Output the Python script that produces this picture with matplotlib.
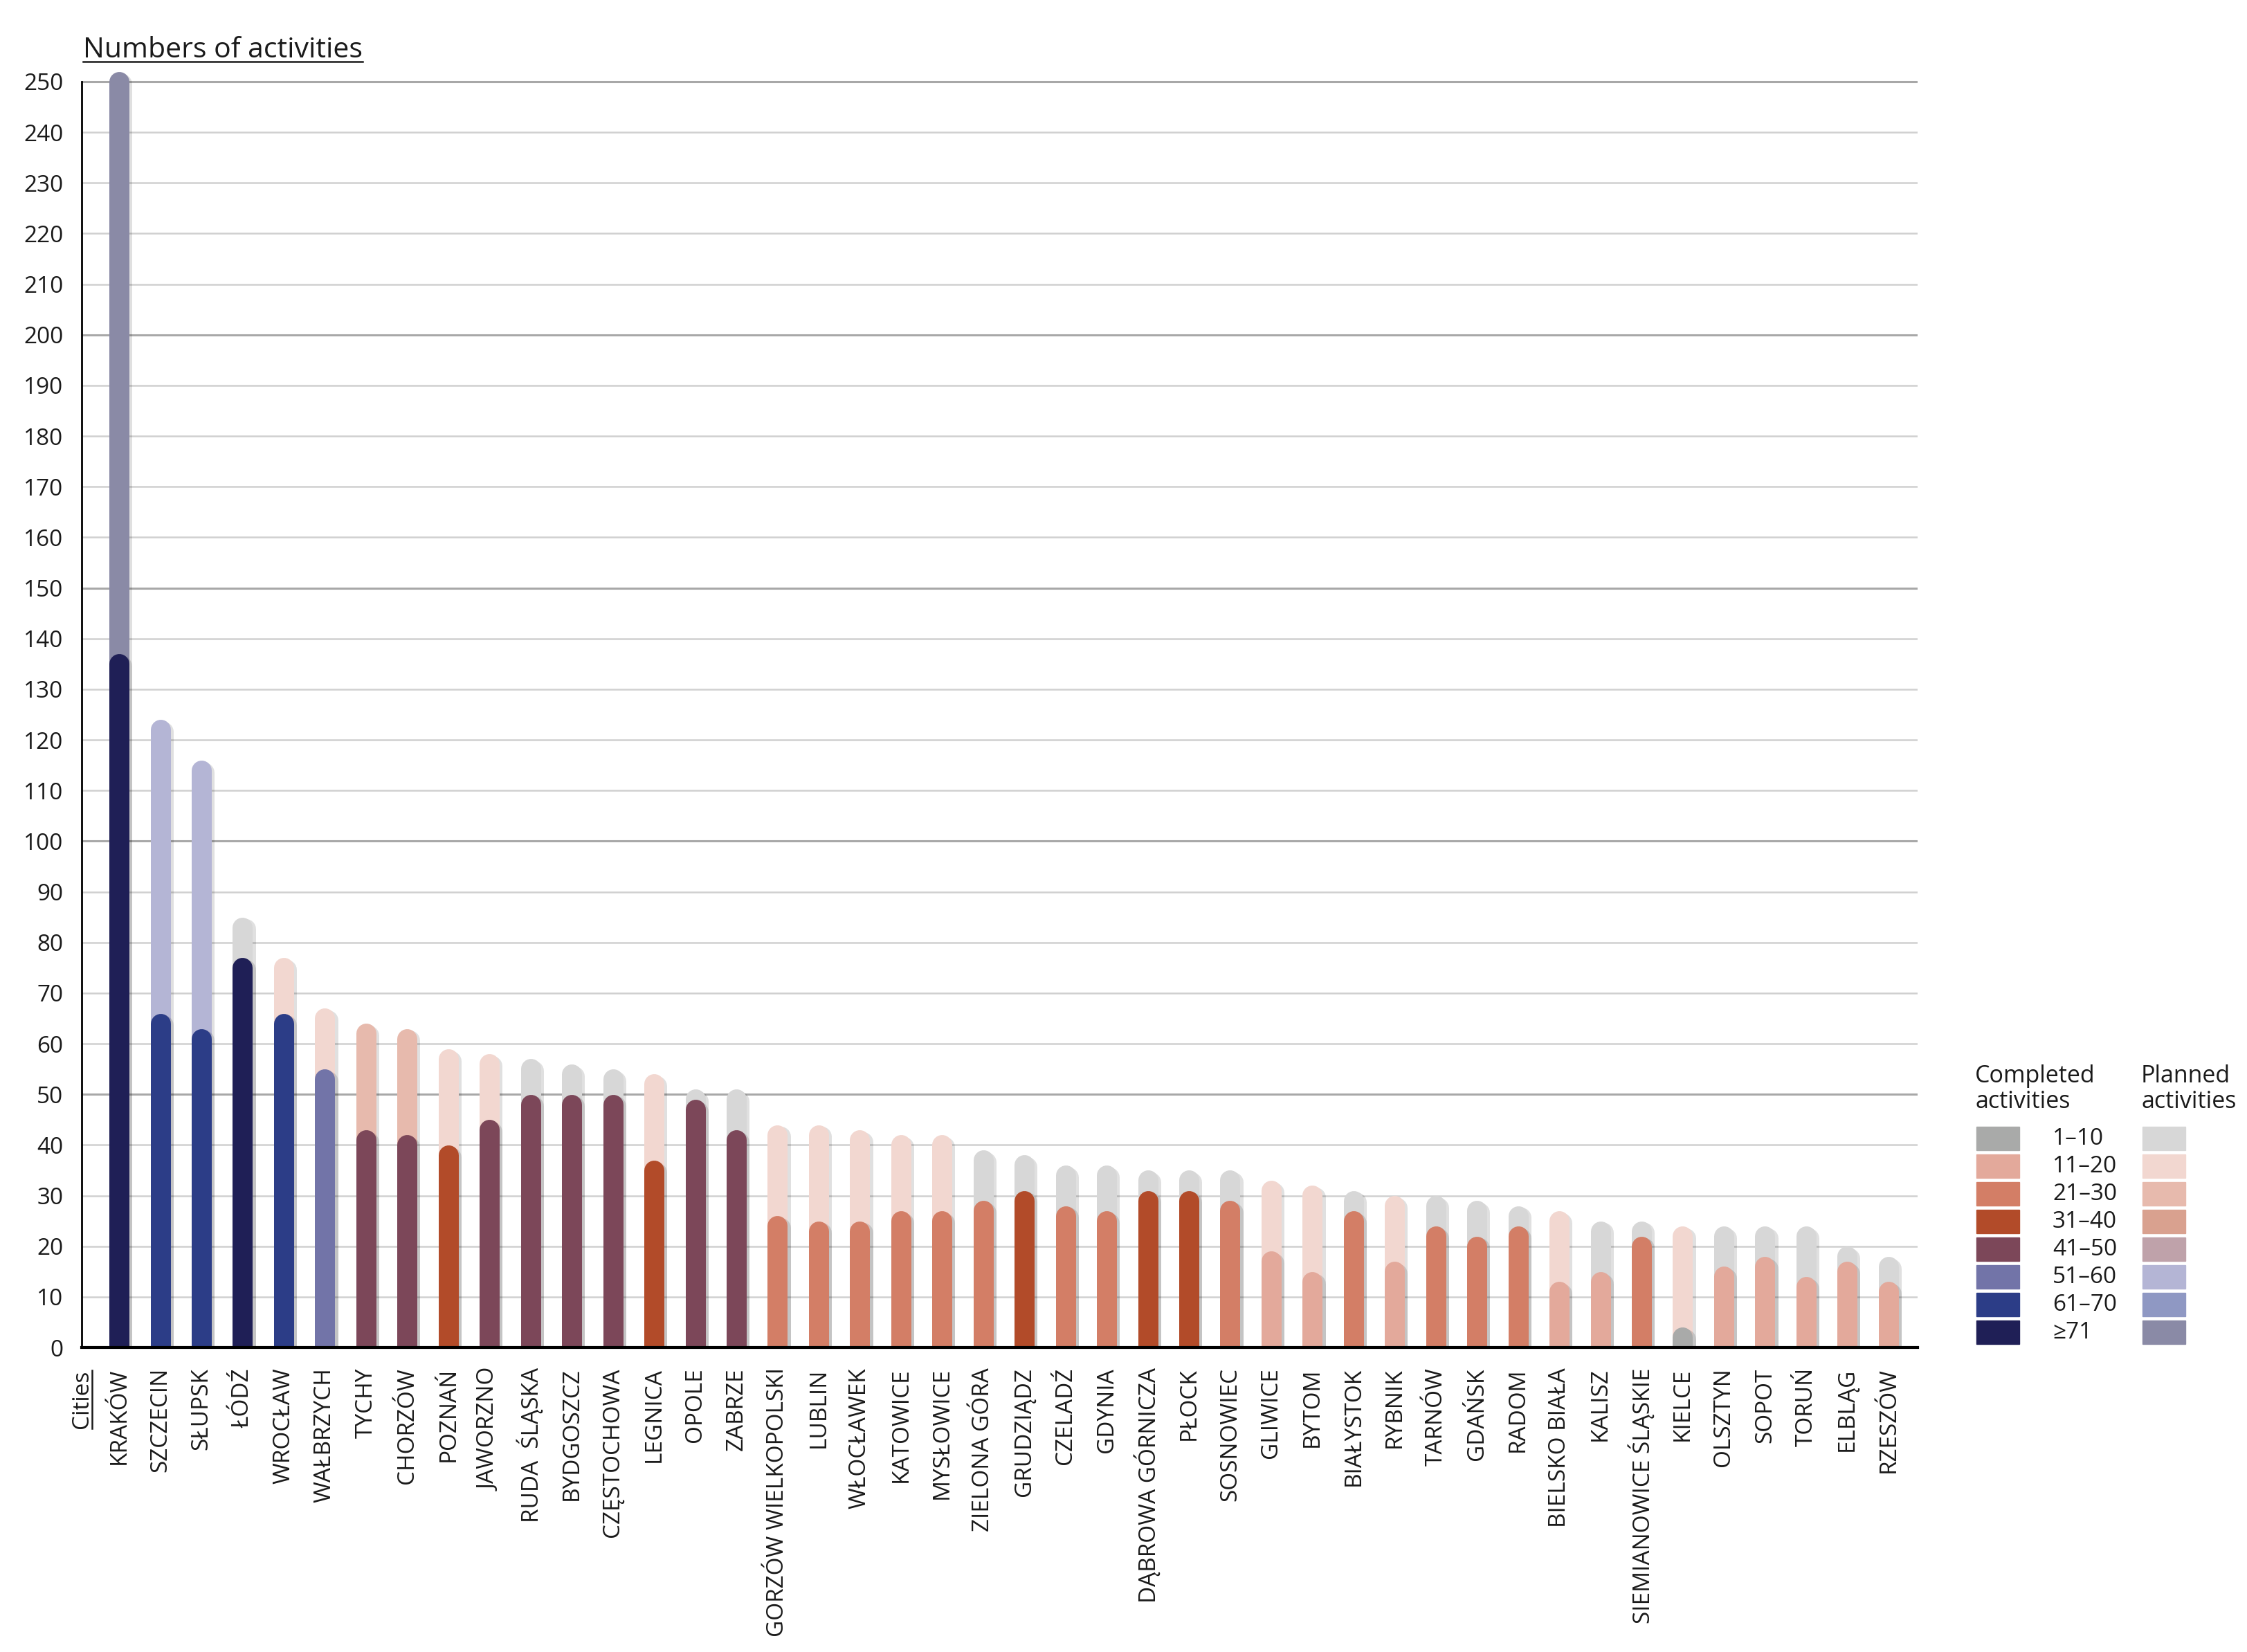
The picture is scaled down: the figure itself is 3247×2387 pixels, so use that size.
import matplotlib
matplotlib.use('Agg')
import matplotlib.pyplot as plt
from matplotlib import patheffects as pe
from matplotlib.patches import Rectangle
from matplotlib.lines import Line2D

plt.rcParams['font.family'] = ['Open Sans', 'DejaVu Sans']

# data
cities = ['KRAKÓW', 'SZCZECIN', 'SŁUPSK', 'ŁÓDŹ', 'WROCŁAW', 'WAŁBRZYCH', 'TYCHY', 'CHORZÓW',
          'POZNAŃ', 'JAWORZNO', 'RUDA  ŚLĄSKA', 'BYDGOSZCZ', 'CZĘSTOCHOWA', 'LEGNICA', 'OPOLE',
          'ZABRZE', 'GORZÓW WIELKOPOLSKI', 'LUBLIN', 'WŁOCŁAWEK', 'KATOWICE', 'MYSŁOWICE',
          'ZIELONA GÓRA', 'GRUDZIĄDZ', 'CZELADŹ', 'GDYNIA', 'DĄBROWA GÓRNICZA', 'PŁOCK',
          'SOSNOWIEC', 'GLIWICE', 'BYTOM', 'BIAŁYSTOK', 'RYBNIK', 'TARNÓW', 'GDAŃSK', 'RADOM',
          'BIELSKO BIAŁA', 'KALISZ', 'SIEMIANOWICE ŚLĄSKIE', 'KIELCE', 'OLSZTYN', 'SOPOT',
          'TORUŃ', 'ELBLĄG', 'RZESZÓW']
planned = [252, 124, 116, 85, 77, 67, 64, 63, 59, 58, 57, 56, 55, 54, 51, 51, 44, 44, 43, 42,
           42, 39, 38, 36, 36, 35, 35, 35, 33, 32, 31, 30, 30, 29, 28, 27, 25, 25, 24, 24,
           24, 24, 20, 18]
completed = [137, 66, 63, 77, 66, 55, 43, 42, 40, 45, 50, 50, 50, 37, 49, 43, 26, 25, 25, 27,
             27, 29, 31, 28, 27, 31, 31, 29, 19, 15, 27, 17, 24, 22, 24, 13, 15, 22, 4, 16,
             18, 14, 17, 13]

bin_labels = ['1–10', '11–20', '21–30', '31–40', '41–50', '51–60', '61–70', '≥71']
comp_colors = ['#a9aaa9', '#e3a99b', '#d37e66', '#b24b29', '#7c4759', '#7274a8', '#2c3d87', '#1f1f56']
plan_colors = ['#d7d7d7', '#f2d7d0', '#e7baad', '#d9a18f', '#bfa2aa', '#b4b5d5', '#8f98c3', '#8a8aa6']


def bin_of(v):
    return min(max((v - 1) // 10, 0), 7)


W, H = 3247, 2387
fig = plt.figure(figsize=(W / 100, H / 100), dpi=100)
ax_top, ax_bot = 103, 1947          # pixel rows of axes top / y=0
ax = fig.add_axes([118 / W, 1 - ax_bot / H, (2771 - 118) / W, (ax_bot - ax_top) / H])
ymax = 250 * (ax_bot - ax_top) / (ax_bot - 118)
ax.set_ylim(0, ymax)
ax.set_xlim(-0.91, len(cities) - 1 + 0.71)

# grid
for v in range(10, 251, 10):
    if v % 50 == 0:
        ax.axhline(v, color='#a8a8a8', lw=2.2, zorder=1)
    else:
        ax.axhline(v, color='#d0d0d0', lw=1.8, zorder=1)

# rounded bars
bar_px = 29
lw = bar_px * 72 / 100
r = (bar_px / 2) * ymax / (ax_bot - ax_top)
shadow = [pe.SimpleLineShadow(offset=(3, -2), shadow_color='black', alpha=0.12), pe.Normal()]
for i, (p, c) in enumerate(zip(planned, completed)):
    ax.plot([i, i], [-5, p - r], color=plan_colors[bin_of(p - c)], lw=lw,
            solid_capstyle='round', path_effects=shadow, zorder=2)
    ax.plot([i, i], [-5, c - r], color=comp_colors[bin_of(c)], lw=lw,
            solid_capstyle='round', path_effects=shadow, zorder=3)

for s in ['top', 'right']:
    ax.spines[s].set_visible(False)
ax.spines['left'].set_bounds(0, 250)
ax.spines['left'].set_linewidth(2)
ax.spines['bottom'].set_linewidth(3)
ax.spines['bottom'].set_zorder(5)

ax.set_yticks(range(0, 251, 10))
ax.tick_params(axis='y', length=0, pad=19, labelsize=24, labelcolor='#1a1a1a')
ax.set_xticks(range(len(cities)))
ax.set_xticklabels(cities, rotation=90, fontsize=24, color='#1a1a1a')
ax.tick_params(axis='x', length=0, pad=21)

# title and axis label, underlined
title = fig.text(120 / W, 1 - 83 / H, 'Numbers of activities', fontsize=29.5,
                 color='#1a1a1a', va='baseline', ha='left')
cities_lbl = fig.text(127 / W, 1 - 1980 / H, 'Cities', fontsize=24, color='#1a1a1a',
                      rotation=90, rotation_mode='anchor', ha='right', va='baseline')
fig.canvas.draw()
rend = fig.canvas.get_renderer()
bb = title.get_window_extent(rend)
fig.add_artist(Line2D([bb.x0 / W, bb.x1 / W], [1 - 89 / H, 1 - 89 / H], color='#1a1a1a', lw=1.8))
bb = cities_lbl.get_window_extent(rend)
fig.add_artist(Line2D([133 / W, 133 / W], [bb.y0 / H, bb.y1 / H], color='#1a1a1a', lw=1.8))

# legend
fig.text(2854 / W, 1 - 1538 / H, 'Completed\nactivities', fontsize=24.5, color='#1a1a1a',
         va='top', ha='left', linespacing=1.1)
fig.text(3094 / W, 1 - 1538 / H, 'Planned\nactivities', fontsize=24.5, color='#1a1a1a',
         va='top', ha='left', linespacing=1.1)
pitch, box_h = 40, 34
for k, lab in enumerate(bin_labels):
    top = 1628 + k * pitch
    fig.add_artist(Rectangle((2856 / W, 1 - (top + box_h) / H), 62 / W, box_h / H,
                             color=comp_colors[k], transform=fig.transFigure))
    fig.add_artist(Rectangle((3096 / W, 1 - (top + box_h) / H), 62 / W, box_h / H,
                             color=plan_colors[k], transform=fig.transFigure))
    fig.text(2966 / W, 1 - (top + box_h / 2) / H, lab, fontsize=24, color='#1a1a1a',
             va='center', ha='left')

fig.savefig('out.png', dpi=100, facecolor='white')
